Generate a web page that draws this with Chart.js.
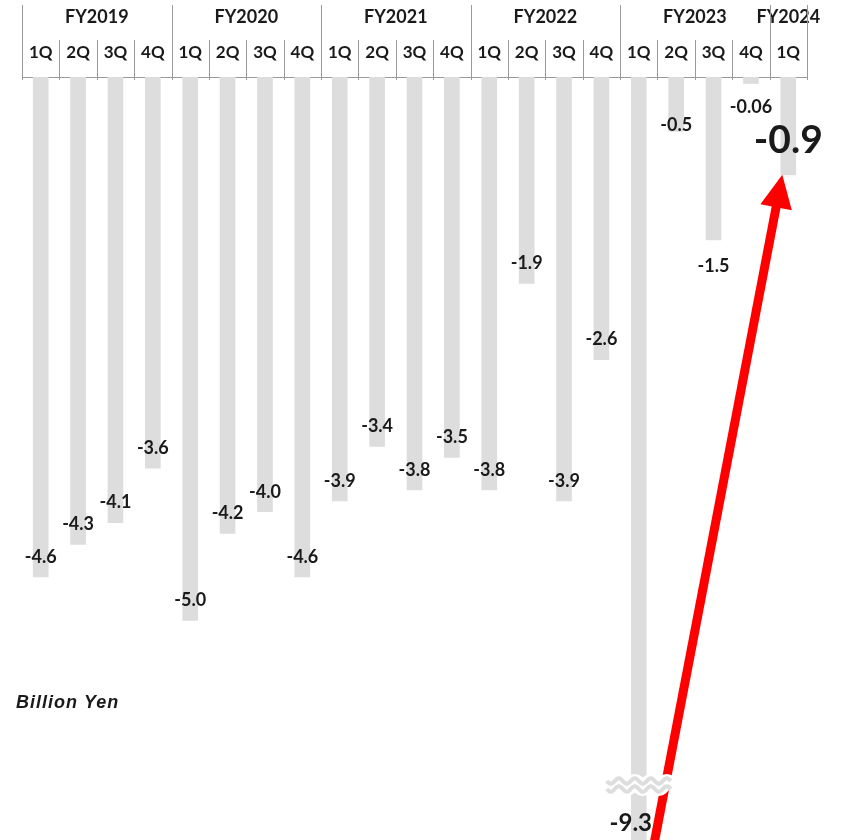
<!DOCTYPE html>
<html>
<head>
<meta charset="utf-8">
<script src="https://cdn.jsdelivr.net/npm/chart.js@4"></script>
<style>
	html, body { margin: 0; padding: 0; background: #fff; }
	#wrap { position: relative; width: 842px; height: 840px; }
</style>
</head>
<body>
<div id="wrap"><canvas id="quarterly_loss"></canvas></div>
<script>
var quarters = ['1Q','2Q','3Q','4Q', '1Q','2Q','3Q','4Q', '1Q','2Q','3Q','4Q', '1Q','2Q','3Q','4Q', '1Q','2Q','3Q','4Q', '1Q'];
var fiscalYears = ['FY2019','FY2020','FY2021','FY2022','FY2023','FY2024'];
var yearFirstQuarter = [0, 4, 8, 12, 16, 20];
var yearQuarterCount = [4, 4, 4, 4, 4, 1];
var operatingLoss = [-4.6, -4.3, -4.1, -3.6, -5.0, -4.2, -4.0, -4.6, -3.9, -3.4, -3.8, -3.5, -3.8, -1.9, -3.9, -2.6, -9.3, -0.5, -1.5, -0.06, -0.9];
var unitLabel = 'Billion Yen';

var TEXT_COLOR = '#1a1a1a';
var LINE_COLOR = '#9a9a9a';
var FONT = 'Lato, "DejaVu Sans", sans-serif';

// year axis: half-quarter slots from -0.5 to n-0.5, FY name on the slot at the group centre
var yearSlots = [];
for (var k = 0; k <= quarters.length * 2; k++) {
	var v = -0.5 + k / 2;
	var name = '';
	yearFirstQuarter.forEach(function (s, i) {
		if (s + (yearQuarterCount[i] - 1) / 2 === v) name = fiscalYears[i];
	});
	yearSlots.push(name);
}

/* separators + value labels + arrow + axis break */
var decorations = {
	id: 'decorations',
	afterDraw: function (chart) {
		var ctx = chart.ctx;
		var area = chart.chartArea;
		var xs = chart.scales.x;
		var meta = chart.getDatasetMeta(0);
		var last = operatingLoss.length - 1;

		ctx.save();

		// separators: short between quarters, long between fiscal years
		ctx.strokeStyle = LINE_COLOR;
		ctx.lineWidth = 1;
		for (var b = 0; b <= quarters.length; b++) {
			var isYear = yearFirstQuarter.indexOf(b) >= 0 || b === quarters.length;
			var px = Math.round(xs.getPixelForValue(b - 0.5)) + 0.5;
			ctx.beginPath();
			ctx.moveTo(px, isYear ? 5 : area.top - 37);
			ctx.lineTo(px, area.top + 3);
			ctx.stroke();
		}

		// value labels
		ctx.fillStyle = TEXT_COLOR;
		ctx.textAlign = 'center';
		ctx.textBaseline = 'middle';
		var shift = { 17: -6, 18: 26, 19: 24 };
		meta.data.forEach(function (bar, i) {
			var txt = operatingLoss[i].toFixed(operatingLoss[i] > -0.1 ? 2 : 1);
			var x = bar.x, y;
			if (i === last) {
				ctx.font = 'bold 39px ' + FONT;
				y = bar.y - 34;
			} else if (bar.y > area.bottom) {
				// clipped bar: label sits at the bottom edge
				ctx.font = 'bold 24px ' + FONT;
				y = area.bottom - 17;
				x = bar.x - 8;
			} else {
				ctx.font = 'bold 18px ' + FONT;
				y = bar.y + (shift[i] !== undefined ? shift[i] : -20);
			}
			ctx.fillText(txt, x, y);
		});

		// red arrow from the big loss to the latest quarter
		var low = meta.data[16];
		var latest = meta.data[last];
		var tipX = latest.x - 6, tipY = latest.y;
		var tailX = low.x + 16, tailY = area.bottom;
		var dx = tipX - tailX, dy = tipY - tailY;
		var len = Math.sqrt(dx * dx + dy * dy);
		var ux = dx / len, uy = dy / len;
		var nx = -uy, ny = ux;
		var headLen = 33, headHalf = 16;
		var bx = tipX - ux * headLen, by = tipY - uy * headLen;
		ctx.strokeStyle = '#ff0000';
		ctx.fillStyle = '#ff0000';
		ctx.lineWidth = 9;
		ctx.beginPath();
		ctx.moveTo(tailX - ux * 10, tailY - uy * 10);
		ctx.lineTo(bx + ux * 2, by + uy * 2);
		ctx.stroke();
		ctx.beginPath();
		ctx.moveTo(tipX, tipY);
		ctx.lineTo(bx + nx * headHalf, by + ny * headHalf);
		ctx.lineTo(bx - nx * headHalf, by - ny * headHalf);
		ctx.closePath();
		ctx.fill();

		// axis break on the clipped bar
		var cx = low.x, cy = area.bottom - 55;
		var wave = function (off) {
			ctx.beginPath();
			for (var k = -32; k <= 32; k++) {
				var wy = cy + off + 2.8 * Math.sin(k / 32 * 2 * Math.PI * 2);
				if (k === -32) ctx.moveTo(cx + k, wy); else ctx.lineTo(cx + k, wy);
			}
			ctx.stroke();
		};
		ctx.lineCap = 'butt';
		ctx.strokeStyle = '#ffffff';
		ctx.lineWidth = 16;
		wave(0);
		ctx.strokeStyle = '#dddddd';
		ctx.lineWidth = 4;
		wave(-4);
		wave(4);

		// unit
		ctx.fillStyle = TEXT_COLOR;
		ctx.textAlign = 'left';
		ctx.letterSpacing = '1px';
		ctx.font = 'italic bold 18px "Liberation Sans", sans-serif';
		ctx.fillText(unitLabel, area.left - 6, area.bottom - 137);

		ctx.restore();
	}
};

const quarterly_loss = document.getElementById('quarterly_loss');

var QuarterlyLossChart = new Chart(quarterly_loss, {
	type: 'bar',
	data: {
		labels: quarters,
		datasets: [{
			label: unitLabel,
			data: operatingLoss,
			backgroundColor: '#dddddd',
			borderWidth: 0,
			barThickness: 15
		}]
	},
	options: {
		responsive: true,
		maintainAspectRatio: false,
		animation: false,
		layout: {
			padding: { left: 22, right: 35, top: 0, bottom: 0 }
		},
		scales: {
			x: {
				position: 'top',
				offset: true,
				border: { display: true, color: LINE_COLOR, width: 1 },
				grid: { display: false, drawTicks: false },
				afterFit: function (scale) { scale.height = 34; },
				ticks: {
					padding: 14,
					autoSkip: false,
					maxRotation: 0,
					color: TEXT_COLOR,
					font: { family: FONT, size: 17, weight: 'bold' }
				}
			},
			x2: {
				type: 'category',
				position: 'top',
				labels: yearSlots,
				offset: false,
				border: { display: false },
				grid: { display: false, drawTicks: false },
				afterFit: function (scale) { scale.height = 43; },
				ticks: {
					padding: 15,
					autoSkip: false,
					maxRotation: 0,
					color: TEXT_COLOR,
					font: { family: FONT, size: 18, weight: 'bold' }
				}
			},
			y: {
				display: false,
				min: -7.02,
				max: 0
			}
		},
		plugins: {
			legend: { display: false },
			tooltip: { enabled: false },
			title: { display: false }
		}
	},
	plugins: [decorations]
});
</script>
</body>
</html>
